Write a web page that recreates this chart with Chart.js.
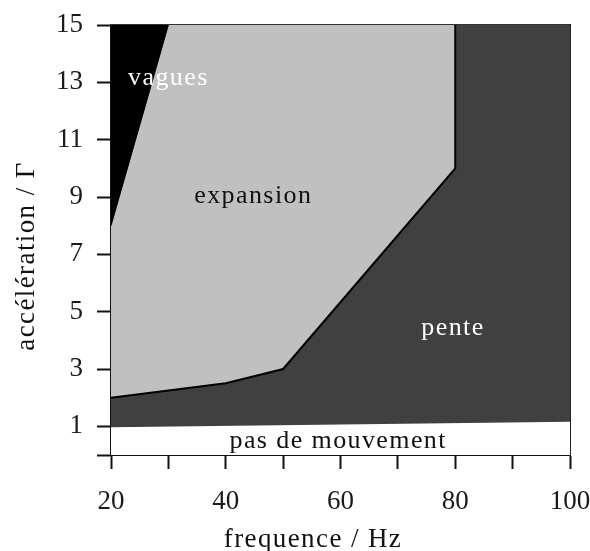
<!DOCTYPE html>
<html>
<head>
<meta charset="utf-8">
<script src="https://cdn.jsdelivr.net/npm/chart.js@4.4.1/dist/chart.umd.min.js"></script>
<style>
  html, body { margin: 0; padding: 0; background: #fff; }
</style>
</head>
<body>
<canvas id="phaseChart" width="590" height="551"></canvas>
<script>
// limites des régions du diagramme (fréquence en Hz, accélération Γ)
var freqRepos = [20, 100];
var gammaRepos = [0.97, 1.16];

var freqExpansion = [20, 40, 50, 80, 80];
var gammaExpansion = [2, 2.5, 3, 10, 15];

// la pente occupe tout ce qui est sous la frontière d'expansion, jusqu'à 100 Hz
var freqPente = freqExpansion.concat([100]);
var gammaPente = gammaExpansion.concat([15]);

var freqVagues = [20, 30];
var gammaVagues = [8, 15];

// graduations
var xTicks = [20, 30, 40, 50, 60, 70, 80, 90, 100];
var xLabels = [20, 40, 60, 80, 100];
var yTicks = [0, 1, 3, 5, 7, 9, 11, 13, 15];
var yLabels = [1, 3, 5, 7, 9, 11, 13, 15];

// noms des régions, placés en coordonnées du graphique
var regionLabels = [
  { text: 'vagues', x: 30.0, y: 12.9, color: '#ffffff' },
  { text: 'expansion', x: 44.8, y: 8.79, color: '#111111' },
  { text: 'pente', x: 79.6, y: 4.19, color: '#ffffff' },
  { text: 'pas de mouvement', x: 59.6, y: 0.23, color: '#111111' }
];

var FONT = '"Liberation Serif", "Times New Roman", serif';

function pts(xs, ys) {
  var out = [];
  for (var i = 0; i < xs.length; i++) out.push({ x: xs[i], y: ys[i] });
  return out;
}

var tickFont = { family: FONT, size: 27 };

// pas de marge auto pour les étiquettes qui débordent
function noOverflow(s) {
  s.paddingLeft = 0;
  s.paddingRight = 0;
  s.paddingTop = 0;
  s.paddingBottom = 0;
}

// textes : noms des régions et titres des axes
var textPlugin = {
  id: 'phaseText',
  afterDatasetsDraw: function(chart) {
    var ctx = chart.ctx, xs = chart.scales.x, ys = chart.scales.y;
    ctx.save();
    ctx.font = '26px ' + FONT;
    ctx.letterSpacing = '1.4px';
    ctx.textAlign = 'center';
    ctx.textBaseline = 'alphabetic';
    regionLabels.forEach(function(l) {
      ctx.fillStyle = l.color;
      ctx.fillText(l.text, xs.getPixelForValue(l.x), ys.getPixelForValue(l.y));
    });
    ctx.restore();
  },
  afterDraw: function(chart) {
    var ctx = chart.ctx;
    ctx.save();
    ctx.font = '27px ' + FONT;
    ctx.letterSpacing = '1.4px';
    ctx.fillStyle = '#111';
    ctx.textAlign = 'center';
    ctx.textBaseline = 'alphabetic';
    ctx.fillText('frequence / Hz', 313, 547);
    ctx.translate(34, 256);
    ctx.rotate(-Math.PI / 2);
    ctx.fillText('accélération / Γ', 0, 0);
    ctx.restore();
  }
};

var ctx = document.getElementById('phaseChart');
new Chart(ctx, {
  type: 'line',
  data: {
    datasets: [
      {
        // pas de mouvement
        data: pts(freqRepos, gammaRepos),
        fill: 'start',
        backgroundColor: '#ffffff',
        borderWidth: 0,
        pointRadius: 0
      },
      {
        // vagues
        data: pts(freqVagues, gammaVagues),
        fill: 'end',
        backgroundColor: '#000000',
        borderColor: '#000000',
        borderWidth: 1,
        pointRadius: 0
      },
      {
        // expansion
        data: pts(freqExpansion, gammaExpansion),
        fill: 'end',
        backgroundColor: '#c0c0c0',
        borderColor: '#000000',
        borderWidth: 2,
        pointRadius: 0
      },
      {
        // pente
        data: pts(freqPente, gammaPente),
        fill: 'start',
        backgroundColor: '#404040',
        borderWidth: 0,
        pointRadius: 0
      }
    ]
  },
  options: {
    responsive: false,
    animation: false,
    devicePixelRatio: 1,
    layout: { padding: { top: 25, right: 20, left: 0, bottom: 0 } },
    plugins: {
      legend: { display: false },
      tooltip: { enabled: false }
    },
    scales: {
      x: {
        type: 'linear',
        position: 'bottom',
        min: 20,
        max: 100,
        afterBuildTicks: function(s) {
          s.ticks = xTicks.map(function(v) { return { value: v }; });
        },
        afterFit: function(s) { s.height = 96; noOverflow(s); },
        ticks: {
          autoSkip: false,
          maxRotation: 0,
          padding: 17,
          color: '#1a1a1a',
          font: tickFont,
          callback: function(v) { return xLabels.indexOf(v) >= 0 ? String(v) : ''; }
        },
        grid: {
          drawOnChartArea: false,
          drawTicks: true,
          tickLength: 14,
          tickWidth: 2,
          color: '#111'
        },
        border: { display: true, color: '#111', width: 2 }
      },
      y: {
        type: 'linear',
        position: 'left',
        min: 0,
        max: 15,
        afterBuildTicks: function(s) {
          s.ticks = yTicks.map(function(v) { return { value: v }; });
        },
        afterFit: function(s) { s.width = 111; noOverflow(s); },
        ticks: {
          padding: 14,
          color: '#1a1a1a',
          font: tickFont,
          callback: function(v) { return yLabels.indexOf(v) >= 0 ? String(v) : ''; }
        },
        grid: {
          drawOnChartArea: false,
          drawTicks: true,
          tickLength: 14,
          tickWidth: 2,
          color: '#111'
        },
        border: { display: true, color: '#111', width: 2 }
      },
      x2: {
        type: 'linear',
        position: 'top',
        min: 20,
        max: 100,
        afterFit: function(s) { s.height = 0; noOverflow(s); },
        ticks: { display: false },
        grid: { display: false },
        border: { display: true, color: '#333', width: 2 }
      },
      y2: {
        type: 'linear',
        position: 'right',
        min: 0,
        max: 15,
        afterFit: function(s) { s.width = 0; noOverflow(s); },
        ticks: { display: false },
        grid: { display: false },
        border: { display: true, color: '#222', width: 2 }
      }
    }
  },
  plugins: [textPlugin]
});
</script>
</body>
</html>
